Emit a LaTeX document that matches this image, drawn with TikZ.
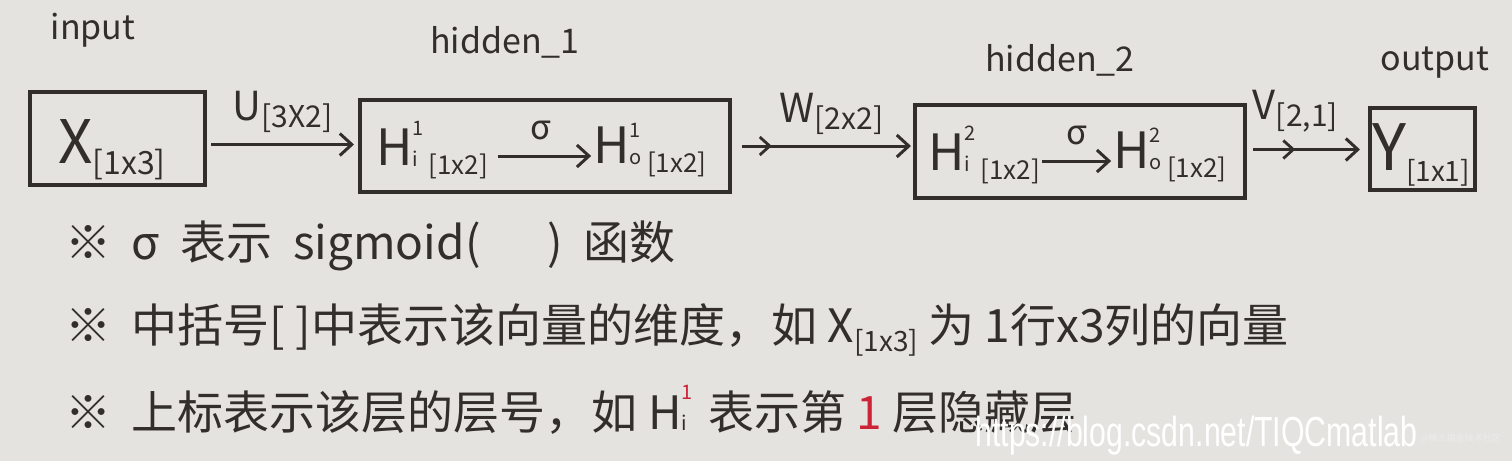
\documentclass[tikz,border=0pt]{standalone}
\usepackage{fontspec}
\setmainfont{Noto Sans CJK SC}
\newfontfamily\wmfont{Liberation Sans}
\usetikzlibrary{arrows.meta,decorations.markings}
\definecolor{paper}{RGB}{229,227,223}
\definecolor{ink}{RGB}{50,46,44}
\definecolor{redink}{RGB}{205,35,55}
\newcommand{\dsub}[2][13]{\raisebox{-0.18em}{\fontsize{#1}{#1}\selectfont #2}}
\newcommand{\Hs}[3][ink]{H\raisebox{-0.02em}{\fontsize{10}{11}\selectfont\shortstack[l]{\textcolor{#1}{#2}\\[5pt]#3}}\kern2.5pt}
\begin{document}
\begin{tikzpicture}[x=0.5pt,y=-0.5pt,
  box/.style={draw=ink, line width=2pt, inner sep=0pt},
  term/.style={text=ink, inner sep=1pt, font=\fontsize{25}{27}\selectfont},
  lbl/.style={text=ink, inner sep=0pt, font=\fontsize{17}{18}\selectfont},
  wlbl/.style={text=ink, inner sep=0pt, font=\fontsize{20}{21}\selectfont},
  note/.style={text=ink, inner sep=0pt, anchor=west, font=\fontsize{23}{25}\selectfont},
  conn/.style={draw=ink, line width=1.5pt, -{Straight Barb[length=6pt,width=11pt,line width=1.5pt]}},
  midbarb/.style={postaction={decorate}, decoration={markings, mark=at position #1 with {\arrow{Straight Barb[length=5pt,width=9pt,line width=1.4pt]}}}}
]
\fill[paper] (0,0) rectangle (1512,461);
\useasboundingbox (0,0) rectangle (1512,461);

% titles
\node[lbl] (tin) at (93,30) {input};
\node[lbl] (th1) at (505,42) {hidden\_1};
\node[lbl] (th2) at (1060,60) {hidden\_2};
\node[lbl] (tout) at (1435,63) {output};

% boxes
\node[box, minimum width=87.5pt, minimum height=46.5pt] (X) at (117.5,138.5) {};
\node[box, minimum width=185pt, minimum height=46pt] (H1) at (545,146) {};
\node[box, minimum width=165pt, minimum height=46.5pt] (H2) at (1080,151.5) {};
\node[box, minimum width=52.5pt, minimum height=41pt] (Y) at (1422.5,149) {};

% box contents
\node[term, font=\fontsize{30}{31}\selectfont] (Xt) at (112,150) {X\dsub[16]{[1x3]}};
\node[term] (H1i) at (432,150) {\Hs{1}{i}\dsub{[1x2]}};
\node[term] (H1o) at (650,150) {\Hs{1}{o}\dsub{[1x2]}};
\node[term] (H2i) at (984,155) {\Hs{2}{i}\dsub{[1x2]}};
\node[term] (H2o) at (1170,155) {\Hs{2}{o}\dsub{[1x2]}};
\node[term, font=\fontsize{32}{33}\selectfont] (Yt) at (1421,155) {Y\dsub[14]{[1x1]}};

% inner arrows
\draw[conn, shorten <=4pt] ([yshift=-3pt]H1i.east) -- ([yshift=-3pt]H1o.west) node[midway, above=4pt, text=ink, font=\fontsize{17}{17}\selectfont] {σ};
\draw[conn] ([yshift=-3pt]H2i.east) -- ([yshift=-3pt]H2o.west) node[midway, above=4pt, text=ink, font=\fontsize{17}{17}\selectfont] {σ};

% connectors
\draw[conn, shorten <=2pt, shorten >=2pt] ([yshift=-3pt]X.east) -- ([yshift=-3pt]X.east -| H1.west)
  node[midway, above=5pt, wlbl] {U\dsub[15]{[3X2]}};
\draw[conn, midbarb=0.22, shorten <=5pt, shorten >=1pt] ([yshift=0pt]H1.east) -- ([yshift=0pt]H1.east -| H2.west)
  node[pos=0.55, above=5pt, wlbl] {W\dsub[15]{[2x2]}};
\draw[conn, midbarb=0.4, shorten <=3pt, shorten >=4pt] ([yshift=1pt]H2.east) -- ([yshift=1pt]H2.east -| Y.west)
  node[pos=0.4, above=8pt, wlbl] {V\dsub[15]{[2,1]}};

% notes
\node[note] (n1) at (65,246) {※\ \ σ\ \ 表示\ \ sigmoid(\quad\ \ )\ \ 函数};
\node[note] (n2) at (65,330) {※\ \ 中括号[\ ]中表示该向量的维度，如\ X\dsub[14]{[1x3]}\ 为\ 1行x3列的向量};
\node[note] (n3) at (65,410) {※\ \ 上标表示该层的层号，如\ \Hs[redink]{1}{i}\ 表示第\ \textcolor{redink}{1}\ 层隐藏层};

% watermark
\node[inner sep=0pt, anchor=west, text=white, font=\wmfont\fontsize{21}{22}\selectfont] (wm) at (975,436) {\scalebox{0.72}[1]{https://blog.csdn.net/TIQCmatlab}};
\node[inner sep=0pt, anchor=west, text=white!85!gray, font=\fontsize{4.5}{5}\selectfont] (wm2) at (1420,438) {@稀土掘金技术社区};
\end{tikzpicture}
\end{document}
